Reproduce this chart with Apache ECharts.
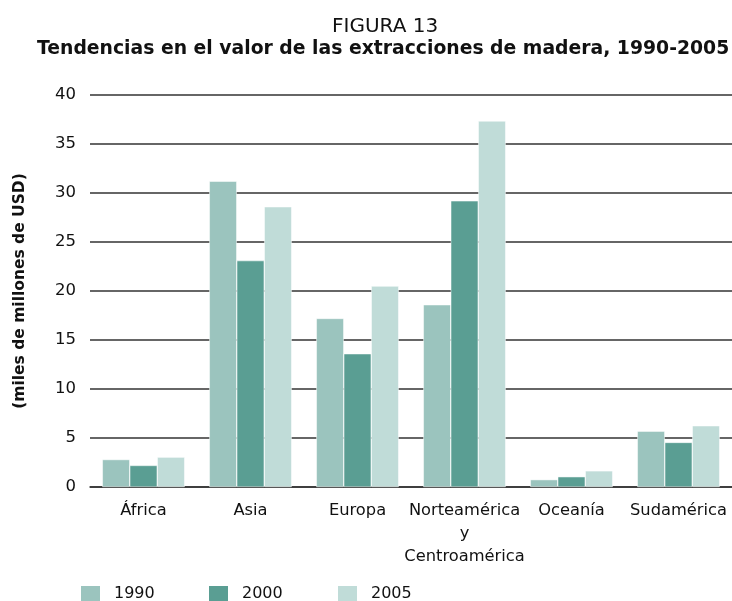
<!DOCTYPE html>
<html lang="es">
  <head>
    <meta charset="UTF-8" />
    <title>Figura 13</title>
    <style>
      html, body { margin: 0; padding: 0; background: #fff; }
    </style>
  </head>
  <body>
    <div id="main" style="width: 732px; height: 601px"></div>
    <script src="https://cdn.jsdelivr.net/npm/echarts@6.0.0/dist/echarts.min.js"></script>
    <script>
      const regions = ["África", "Asia", "Europa", "Norteamérica\ny\nCentroamérica", "Oceanía", "Sudamérica"];
      const years = ["1990", "2000", "2005"];
      const v1990 = [2.8, 31.2, 17.2, 18.6, 0.75, 5.7];
      const v2000 = [2.2, 23.1, 13.6, 29.2, 1.05, 4.55];
      const v2005 = [3.05, 28.6, 20.5, 37.35, 1.65, 6.25];
      const colors = ["#9bc4be", "#5a9e93", "#c0dcd8"];

      const font = "'DejaVu Sans', sans-serif";
      const chart = echarts.init(document.getElementById("main"));

      const mkSeries = (name, data, i) => ({
        name: name,
        type: "bar",
        data: data,
        barGap: "0%",
        barCategoryGap: "23%",
        itemStyle: { color: colors[i], borderColor: "#ffffff", borderWidth: 0.5 },
      });

      const mkLegend = (name, left) => ({
        data: [name],
        left: left,
        top: 584,
        padding: 0,
        itemWidth: 21,
        itemHeight: 18,
        icon: "rect",
        textStyle: { fontFamily: font, fontSize: 16, color: "#111", padding: [0, 0, 0, 8] },
      });

      chart.setOption({
        animation: false,
        color: colors,
        title: [
          {
            text: "FIGURA 13",
            left: 332,
            top: 17,
            padding: 0,
            textStyle: { fontFamily: font, fontSize: 20, fontWeight: "normal", color: "#111" },
          },
          {
            text: "Tendencias en el valor de las extracciones de madera, 1990-2005",
            left: 37,
            top: 40,
            padding: 0,
            textStyle: { fontFamily: font, fontSize: 18.8, fontWeight: "bold", color: "#111" },
          },
        ],
        legend: [mkLegend(years[0], 79), mkLegend(years[1], 207), mkLegend(years[2], 336)],
        grid: { left: 90, right: 0, top: 95, bottom: 114 },
        xAxis: {
          type: "category",
          data: regions,
          axisTick: { show: false },
          axisLine: { show: true, lineStyle: { color: "#333", width: 1.5 } },
          axisLabel: {
            fontFamily: font,
            fontSize: 16.3,
            color: "#111",
            lineHeight: 23,
            margin: 12,
            interval: 0,
          },
        },
        yAxis: {
          type: "value",
          min: 0,
          max: 40,
          interval: 5,
          name: "(miles de millones de USD)",
          nameLocation: "middle",
          nameGap: 62,
          nameTextStyle: { fontFamily: font, fontSize: 15.5, fontWeight: "bold", color: "#111" },
          axisLabel: { fontFamily: font, fontSize: 16.5, color: "#111", margin: 14 },
          splitLine: { lineStyle: { color: "#333", width: 1.5 } },
          axisLine: { show: false },
          axisTick: { show: false },
        },
        series: [mkSeries(years[0], v1990, 0), mkSeries(years[1], v2000, 1), mkSeries(years[2], v2005, 2)],
      });
    </script>
  </body>
</html>
